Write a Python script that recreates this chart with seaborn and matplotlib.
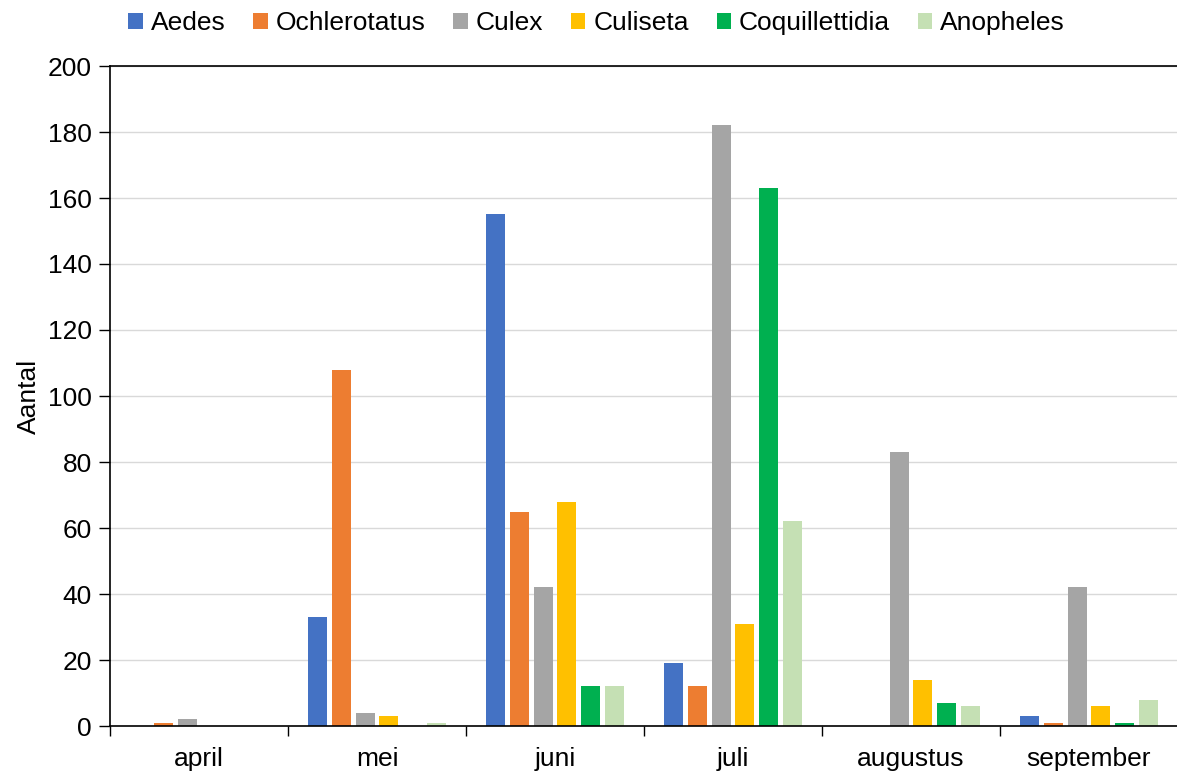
import matplotlib
matplotlib.use("Agg")
import matplotlib.pyplot as plt
from matplotlib.ticker import FixedLocator, NullFormatter
import seaborn as sns
import pandas as pd

months = ["april", "mei", "juni", "juli", "augustus", "september"]
genera = ["Aedes", "Ochlerotatus", "Culex", "Culiseta", "Coquillettidia", "Anopheles"]

aedes = [0, 33, 155, 19, 0, 3]
ochlerotatus = [1, 108, 65, 12, 0, 1]
culex = [2, 4, 42, 182, 83, 42]
culiseta = [0, 3, 68, 31, 14, 6]
coquillettidia = [0, 0, 12, 163, 7, 1]
anopheles = [0, 1, 12, 62, 6, 8]

colors = ["#4472C4", "#ED7D31", "#A5A5A5", "#FFC000", "#00B050", "#C5E0B4"]

series = [aedes, ochlerotatus, culex, culiseta, coquillettidia, anopheles]
df = pd.DataFrame(
    [(m, g, v) for g, vals in zip(genera, series) for m, v in zip(months, vals)],
    columns=["maand", "genus", "aantal"],
)

sns.set_theme(style="white")
plt.rcParams["font.family"] = ["Liberation Sans", "DejaVu Sans"]
plt.rcParams["text.color"] = "black"
plt.rcParams["axes.labelcolor"] = "black"
plt.rcParams["xtick.color"] = "black"
plt.rcParams["ytick.color"] = "black"

FS = 19

fig = plt.figure(figsize=(11.77, 7.71), dpi=100)
ax = fig.add_axes([110 / 1177, 1 - 726 / 771, 1068 / 1177, 660 / 771])

sns.barplot(
    data=df, x="maand", y="aantal", hue="genus",
    order=months, hue_order=genera, palette=colors,
    width=0.8, gap=0.2, saturation=1, ax=ax, legend=True,
    linewidth=0,
)

ax.set_xlim(-0.5, len(months) - 0.5)
ax.set_ylim(0, 200)
ax.set_yticks(range(0, 201, 20))
ax.yaxis.grid(True, color="#D9D9D9", linewidth=1)
ax.set_axisbelow(True)

for side in ["left", "bottom", "top"]:
    ax.spines[side].set_visible(True)
    ax.spines[side].set_color("black")
    ax.spines[side].set_linewidth(1.2)
ax.spines["right"].set_visible(False)

ax.tick_params(axis="y", which="major", left=True, length=8, width=1, color="black",
               labelsize=FS, pad=5)
ax.tick_params(axis="x", which="major", bottom=False, labelsize=FS, pad=9)
ax.xaxis.set_minor_locator(FixedLocator([i - 0.5 for i in range(len(months) + 1)]))
ax.xaxis.set_minor_formatter(NullFormatter())
ax.tick_params(axis="x", which="minor", bottom=True, length=7, width=1, color="black")

ax.set_xlabel("")
ax.set_ylabel("Aantal", fontsize=FS, labelpad=5)

handles, labels = ax.get_legend_handles_labels()
ax.get_legend().remove()
fig.legend(
    handles, labels, loc="center", bbox_to_anchor=(0.507, 0.97), ncol=6,
    frameon=False, fontsize=FS, handlelength=0.55, handleheight=0.55,
    handletextpad=0.3, columnspacing=1.05,
)

fig.savefig("out.png", dpi=100)
